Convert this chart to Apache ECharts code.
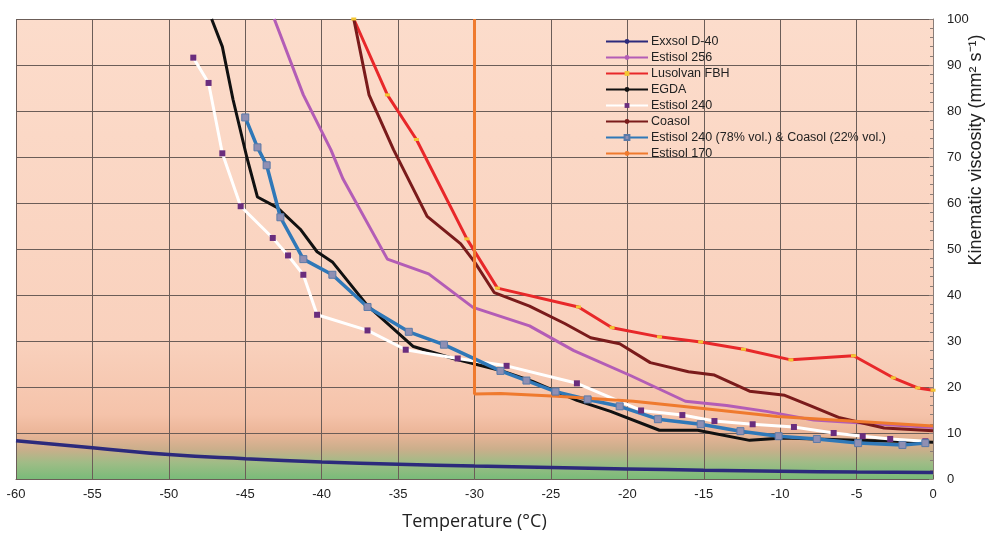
<!DOCTYPE html>
<html>
<head>
<meta charset="utf-8">
<script src="https://cdn.jsdelivr.net/npm/echarts@6/dist/echarts.min.js"></script>
<style>
  html, body { margin: 0; padding: 0; background: #fff; }
  #chart { width: 992px; height: 536px; }
</style>
</head>
<body>
<div id="chart"></div>
<script>
// [temperature °C, kinematic viscosity mm2/s]
const exxsolD40 = [[-60, 8.3], [-55, 6.8], [-50, 5.3], [-45, 4.4], [-40, 3.7], [-35, 3.2], [-30, 2.8],
  [-25, 2.5], [-20, 2.2], [-15, 1.9], [-10, 1.7], [-5, 1.5], [0, 1.4]]
const estisol256 = [[-43.1, 100], [-41.2, 83.5], [-39.4, 71.6], [-38.6, 65.2], [-35.7, 47.8], [-33.0, 44.6],
  [-30.1, 37.3], [-26.4, 33.3], [-23.5, 27.9], [-19.8, 22.5], [-16.2, 16.9], [-13.5, 16.0], [-10.9, 14.7],
  [-7.8, 12.8], [0, 11.2]]
const lusolvanFBH = [[-37.9, 100], [-35.7, 83.5], [-33.8, 73.8], [-30.5, 52.2], [-28.5, 41.5], [-23.2, 37.4],
  [-21.0, 32.9], [-17.9, 30.9], [-15.2, 29.8], [-12.4, 28.2], [-9.3, 25.9], [-5.2, 26.8], [-2.6, 22.0],
  [-1.0, 19.8], [0, 19.3]]
const egda = [[-47.2, 100], [-46.5, 94], [-45.8, 82.5], [-44.9, 70], [-44.2, 61.3], [-42.9, 59], [-41.4, 54.3],
  [-40.3, 49.4], [-39.3, 47.2], [-37.0, 37.7], [-34.0, 28.8], [-31.4, 26.2], [-28.3, 23.6], [-26.2, 21.2],
  [-23.3, 17.1], [-21.1, 14.7], [-17.9, 10.6], [-15.4, 10.6], [-12.0, 8.4], [-9.8, 8.9], [-5.0, 8.4], [0, 8.0]]
const estisol240 = [[-48.4, 91.6], [-47.4, 86.1], [-46.5, 70.8], [-45.3, 59.3], [-43.2, 52.4], [-42.2, 48.6],
  [-41.2, 44.4], [-40.3, 35.7], [-37.0, 32.3], [-34.5, 28.1], [-31.1, 26.2], [-27.9, 24.6], [-23.3, 20.8],
  [-19.1, 14.9], [-16.4, 13.9], [-14.3, 12.6], [-11.8, 11.9], [-9.1, 11.3], [-6.5, 10.0], [-4.6, 9.3],
  [-2.8, 8.7], [-0.5, 8.2]]
const coasol = [[-37.9, 100], [-36.9, 83.5], [-35.3, 71.6], [-33.1, 57.1], [-30.9, 51.1], [-30.0, 47.2],
  [-28.7, 40.5], [-26.4, 37.6], [-24.1, 33.8], [-22.4, 30.7], [-20.5, 29.4], [-18.5, 25.3], [-16.0, 23.3],
  [-14.3, 22.6], [-12.0, 19.1], [-9.7, 18.2], [-8.0, 15.9], [-6.1, 13.3], [-3.2, 11.1], [0, 10.5]]
const blend = [[-45.0, 78.6], [-44.2, 72.1], [-43.6, 68.2], [-42.7, 56.9], [-41.2, 47.8], [-39.3, 44.4],
  [-37.0, 37.4], [-34.3, 32.0], [-32.0, 29.2], [-28.3, 23.5], [-26.6, 21.4], [-24.7, 19.0], [-22.6, 17.3],
  [-20.5, 15.8], [-18.0, 13.0], [-15.2, 11.9], [-12.6, 10.4], [-10.1, 9.3], [-7.6, 8.7], [-4.9, 7.8],
  [-2.0, 7.4], [-0.5, 7.8]]
const estisol170 = [[-30, 100], [-30, 18.5], [-28.3, 18.6], [-24.6, 18.0], [-19.6, 16.9], [-15.2, 15.4],
  [-10.2, 13.6], [-5.4, 12.6], [0, 11.5]]

const xTicks = { min: -60, max: 0, interval: 5 }
const yTicks = { min: 0, max: 100, interval: 10 }

const chart = echarts.init(document.getElementById('chart'), null, { renderer: 'canvas' })

const line = (name, data, color, width, extra) => Object.assign({
  name: name,
  type: 'line',
  data: data,
  symbol: 'none',
  lineStyle: { color: color, width: width },
  itemStyle: { color: color },
  emphasis: { disabled: true },
  clip: true,
}, extra || {})

chart.setOption({
  animation: false,
  textStyle: { fontFamily: 'Liberation Sans, Arial, sans-serif' },
  grid: {
    left: 16, right: 59, top: 19, bottom: 55,
    show: true,
    borderWidth: 0,
    backgroundColor: new echarts.graphic.LinearGradient(0, 0, 0, 1, [
      { offset: 0, color: '#fcdccb' },
      { offset: 0.7, color: '#f9d1bd' },
      { offset: 0.86, color: '#f5c3aa' },
      { offset: 0.9, color: '#ebb598' },
      { offset: 0.935, color: '#cbae8b' },
      { offset: 0.965, color: '#9fbc86' },
      { offset: 1, color: '#79bb79' },
    ]),
  },
  legend: {
    orient: 'vertical',
    left: 600,
    top: 30,
    itemWidth: 42,
    itemHeight: 6,
    itemGap: 3,
    textStyle: { fontSize: 12.5, color: '#222', padding: [0, 0, 0, -2] },
    data: ['Exxsol D-40', 'Estisol 256', 'Lusolvan FBH', 'EGDA', 'Estisol 240', 'Coasol',
      'Estisol 240 (78% vol.) & Coasol (22% vol.)', 'Estisol 170'],
  },
  xAxis: {
    type: 'value',
    min: xTicks.min, max: xTicks.max, interval: xTicks.interval,
    name: 'Temperature (°C)',
    nameLocation: 'middle',
    nameGap: 34,
    nameTextStyle: { fontSize: 18, color: '#222', fontFamily: 'Open Sans, sans-serif' },
    axisLine: { lineStyle: { color: '#6b5d58', width: 1 } },
    axisTick: { show: true, inside: true, length: 4, lineStyle: { color: '#6b5d58' } },
    axisLabel: { fontSize: 13, color: '#222', margin: 9 },
    splitLine: { show: true, lineStyle: { color: '#6b5d58', width: 1 } },
  },
  yAxis: {
    type: 'value',
    position: 'right',
    min: yTicks.min, max: yTicks.max, interval: yTicks.interval,
    axisLine: { show: true, lineStyle: { color: '#8a7d78', width: 1 } },
    axisTick: { show: true, inside: true, length: 4, lineStyle: { color: '#8a7d78' } },
    minorTick: { show: true, splitNumber: 5, length: 3, lineStyle: { color: '#8a7d78' } },
    axisLabel: { fontSize: 13, color: '#222', margin: 14 },
    splitLine: { show: true, lineStyle: { color: '#6b5d58', width: 1 } },
  },
  graphic: [{
    type: 'text',
    x: 976, y: 150,
    rotation: Math.PI / 2,
    style: {
      text: 'Kinematic viscosity (mm² s⁻¹)',
      font: '18px "Liberation Sans", Arial, sans-serif',
      fill: '#222',
      align: 'center',
      verticalAlign: 'middle',
    },
  }],
  series: [
    line('Exxsol D-40', exxsolD40, '#2c2a7c', 3.5, { smooth: true }),
    line('Estisol 256', estisol256, '#b35db6', 3),
    line('Lusolvan FBH', lusolvanFBH, '#e8282a', 3, {
      symbol: 'rect', symbolSize: [5, 3], showSymbol: true,
      itemStyle: { color: '#f3c531' },
    }),
    line('EGDA', egda, '#111', 3),
    line('Estisol 240', estisol240, '#ffffff', 3, {
      symbol: 'rect', symbolSize: 6,
      itemStyle: { color: '#6a2d7d' },
    }),
    line('Coasol', coasol, '#7a1b1b', 3),
    line('Estisol 240 (78% vol.) & Coasol (22% vol.)', blend, '#2f78b8', 3.5, {
      symbol: 'rect', symbolSize: 7,
      itemStyle: { color: '#8f8fb3', borderColor: '#5a7aa8', borderWidth: 1 },
    }),
    line('Estisol 170', estisol170, '#ef7a2e', 3),
  ],
})
</script>
</body>
</html>
